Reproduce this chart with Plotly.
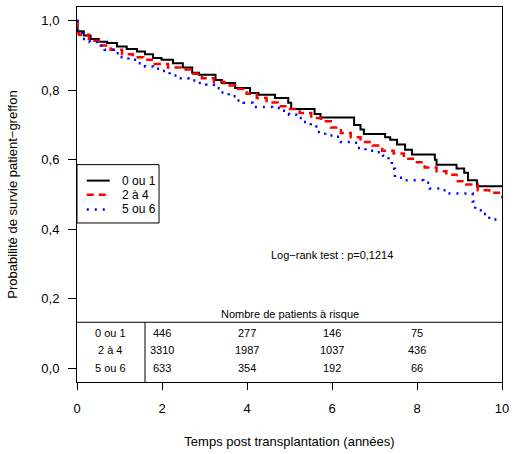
import plotly.graph_objects as go

# Kaplan-Meier estimates (time in years, survival)
t_01 = [0, 0.01, 0.16, 0.32, 0.51, 0.71, 0.94, 1.17, 1.41, 1.6, 1.79, 1.99, 2.26, 2.49,
        2.71, 2.87, 3.26, 3.41, 3.72, 4.07, 4.27, 4.66, 4.97, 5.04, 5.59, 5.73, 6.52,
        6.67, 6.75, 7.25, 7.37, 7.53, 7.72, 7.88, 8.42, 8.46, 8.93, 9.11, 9.2, 9.41, 10]
s_01 = [1.0, 0.97, 0.958, 0.948, 0.94, 0.936, 0.926, 0.919, 0.912, 0.904, 0.893, 0.888,
        0.878, 0.866, 0.851, 0.845, 0.83, 0.821, 0.807, 0.792, 0.787, 0.778, 0.764, 0.746,
        0.732, 0.722, 0.70, 0.687, 0.674, 0.665, 0.658, 0.644, 0.629, 0.615, 0.60, 0.586,
        0.575, 0.563, 0.541, 0.524, 0.524]

t_24 = [0, 0.01, 0.05, 0.28, 0.55, 0.79, 1.06, 1.31, 1.56, 1.83, 2.14, 2.45, 2.67, 2.94,
        3.22, 3.47, 3.72, 3.99, 4.23, 4.46, 4.72, 4.97, 5.24, 5.51, 5.74, 5.97, 6.21, 6.44,
        6.67, 6.95, 7.18, 7.45, 7.69, 7.95, 8.18, 8.46, 8.69, 8.93, 9.16, 9.43, 9.7, 9.93, 10]
s_24 = [1.0, 0.965, 0.96, 0.943, 0.929, 0.917, 0.904, 0.895, 0.888, 0.876, 0.866, 0.86,
        0.848, 0.835, 0.824, 0.814, 0.804, 0.79, 0.778, 0.765, 0.754, 0.746, 0.735, 0.72,
        0.711, 0.693, 0.677, 0.665, 0.651, 0.641, 0.626, 0.618, 0.603, 0.593, 0.578, 0.567,
        0.557, 0.538, 0.529, 0.512, 0.505, 0.493, 0.493]

t_56 = [0, 0.01, 0.12, 0.3, 0.49, 0.65, 0.85, 1.02, 1.21, 1.41, 1.6, 1.79, 2.01, 2.18, 2.4,
        2.62, 2.8, 3.04, 3.22, 3.39, 3.57, 3.74, 3.92, 4.13, 4.59, 4.79, 4.99, 5.16, 5.33,
        5.5, 5.63, 5.84, 6.05, 6.21, 6.44, 6.6, 6.79, 7.02, 7.2, 7.33, 7.41, 7.48, 7.69,
        8.15, 8.3, 8.53, 8.73, 9.31, 9.37, 9.55, 9.7, 10]
s_56 = [1.0, 0.97, 0.948, 0.939, 0.929, 0.917, 0.907, 0.895, 0.888, 0.878, 0.869, 0.862,
        0.856, 0.843, 0.835, 0.828, 0.821, 0.817, 0.806, 0.794, 0.783, 0.771, 0.764, 0.752,
        0.749, 0.741, 0.73, 0.72, 0.709, 0.696, 0.68, 0.67, 0.666, 0.651, 0.649, 0.634,
        0.626, 0.622, 0.612, 0.596, 0.574, 0.548, 0.541, 0.534, 0.517, 0.512, 0.503, 0.48,
        0.455, 0.444, 0.428, 0.428]

groups = ["0 ou 1", "2 à 4", "5 ou 6"]
risk_times = [2, 4, 6, 8]
risk_counts = [
    [446, 277, 146, 75],
    [3310, 1987, 1037, 436],
    [633, 354, 192, 66],
]
logrank_text = "Log\u2212rank test : p=0,1214"

FONT = "Liberation Sans, Arial, sans-serif"
styles = [
    dict(color="black", width=2, dash="solid"),
    dict(color="#ff0000", width=2.5, dash="7px,5px"),
    dict(color="#0000ff", width=2.5, dash="2px,6px"),
]

fig = go.Figure()
for (t, s), name, st in zip([(t_01, s_01), (t_24, s_24), (t_56, s_56)], groups, styles):
    fig.add_trace(go.Scatter(x=t, y=s, mode="lines", name=name, line=st,
                             line_shape="hv", showlegend=False))

# risk table
row_y = [0.10, 0.052, 0.0]
for gi, g in enumerate(groups):
    fig.add_annotation(x=0.78, y=row_y[gi], text=g, showarrow=False,
                       font=dict(size=11, family=FONT, color="black"))
    for ti, tm in enumerate(risk_times):
        fig.add_annotation(x=tm, y=row_y[gi], text=str(risk_counts[gi][ti]), showarrow=False,
                           font=dict(size=11, family=FONT, color="black"))
fig.add_annotation(x=5, y=0.157, text="Nombre de patients à risque", showarrow=False,
                   font=dict(size=11, family=FONT, color="black"))
fig.add_shape(type="line", x0=0, x1=10, y0=0.132, y1=0.132, line=dict(color="black", width=1))
fig.add_shape(type="line", x0=1.6, x1=1.6, y0=0.132, y1=-0.04, line=dict(color="black", width=1))

fig.add_annotation(x=6, y=0.326, text=logrank_text, showarrow=False,
                   font=dict(size=11, family=FONT, color="black"))

# legend box drawn by hand to keep R's compact spacing
leg_y = [0.540, 0.499, 0.457]
fig.add_shape(type="rect", x0=0, x1=1.93, y0=0.418, y1=0.586,
              line=dict(color="black", width=1))
for yy, name, st in zip(leg_y, groups, styles):
    fig.add_shape(type="line", x0=0.23, x1=0.77, y0=yy, y1=yy, line=st)
    fig.add_annotation(x=1.0, y=yy, text=name, showarrow=False, xanchor="left",
                       font=dict(size=12, family=FONT, color="black"))

fig.update_layout(
    width=515, height=454,
    margin=dict(l=77, r=9, t=6, b=72),
    paper_bgcolor="white", plot_bgcolor="white",
    separators=",.",
    font=dict(family=FONT, size=13, color="black"),
    xaxis=dict(range=[0, 10], tickvals=[0, 2, 4, 6, 8, 10], ticks="outside", ticklen=7,
               tickcolor="black", showline=True, linecolor="black", mirror=True,
               showgrid=False, zeroline=False, ticklabelstandoff=7,
               title=dict(text="Temps post transplantation (années)", standoff=22,
                          font=dict(size=13))),
    yaxis=dict(range=[-0.04, 1.04], tickvals=[0, 0.2, 0.4, 0.6, 0.8, 1.0], tickformat=".1f",
               ticks="outside", ticklen=8, tickcolor="black", showline=True,
               linecolor="black", mirror=True, showgrid=False, zeroline=False,
               ticklabelstandoff=6,
               title=dict(text="Probabilité de survie patient\u2212greffon", standoff=20,
                          font=dict(size=13))),
)

# the page's default body margin would shift the figure by 8px
fig.write_html("out.html", config={"displayModeBar": False},
               post_script="document.body.style.margin='0';")
